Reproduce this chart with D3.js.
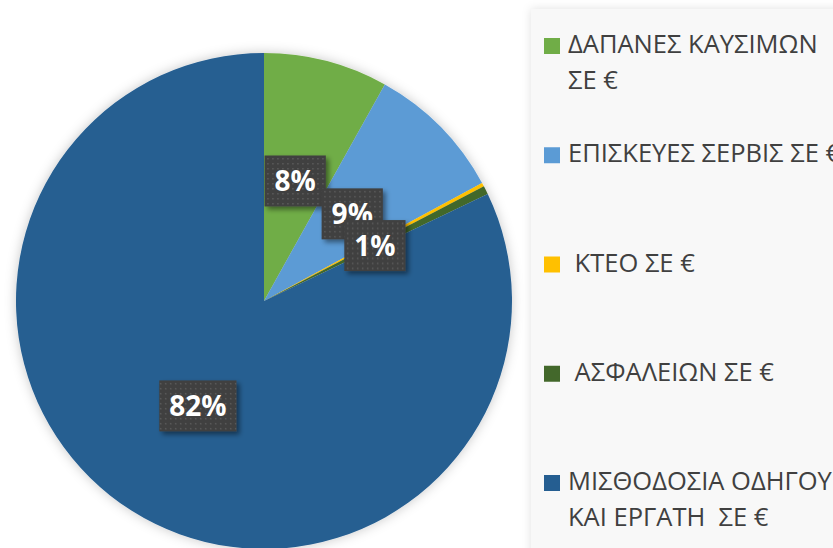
<!DOCTYPE html>
<html>
<head>
<meta charset="utf-8">
<script src="https://cdn.jsdelivr.net/npm/d3@7"></script>
<style>
  body { margin: 0; background: #fff; }
  svg { display: block; }
  text { font-family: "Open Sans", sans-serif; white-space: pre; }
</style>
</head>
<body>
<svg id="chart" width="833" height="548"></svg>
<script>
// Chart data
const categories = ["ΔΑΠΑΝΕΣ ΚΑΥΣΙΜΩΝ ΣΕ €", "ΕΠΙΣΚΕΥΕΣ ΣΕΡΒΙΣ ΣΕ €", "ΚΤΕΟ ΣΕ €", "ΑΣΦΑΛΕΙΩΝ ΣΕ €", "ΜΙΣΘΟΔΟΣΙΑ ΟΔΗΓΟΥ ΚΑΙ ΕΡΓΑΤΗ ΣΕ €"];
const legendLines = [["ΔΑΠΑΝΕΣ ΚΑΥΣΙΜΩΝ", "ΣΕ €"], ["ΕΠΙΣΚΕΥΕΣ ΣΕΡΒΙΣ ΣΕ €"], [" ΚΤΕΟ ΣΕ €"], [" ΑΣΦΑΛΕΙΩΝ ΣΕ €"], ["ΜΙΣΘΟΔΟΣΙΑ ΟΔΗΓΟΥ", "ΚΑΙ ΕΡΓΑΤΗ  ΣΕ €"]];
const values = [8.1, 9.0, 0.25, 0.55, 82.1];
const colors = ["#70AD47", "#5B9BD5", "#FFC000", "#43682B", "#255E91"];

const svg = d3.select("#chart");
const defs = svg.append("defs");

// soft glow round the pie
const glow = defs.append("filter").attr("id", "glow")
    .attr("x", "-10%").attr("y", "-10%").attr("width", "120%").attr("height", "120%");
glow.append("feDropShadow").attr("dx", 0).attr("dy", 0)
    .attr("stdDeviation", 6).attr("flood-color", "#000").attr("flood-opacity", 0.22);

// label box shadow
const boxShadow = defs.append("filter").attr("id", "boxShadow")
    .attr("x", "-20%").attr("y", "-20%").attr("width", "150%").attr("height", "150%");
boxShadow.append("feDropShadow").attr("dx", 3).attr("dy", 3)
    .attr("stdDeviation", 2.5).attr("flood-color", "#000").attr("flood-opacity", 0.45);

// legend panel shadow
const panelShadow = defs.append("filter").attr("id", "panelShadow")
    .attr("x", "-10%").attr("y", "-10%").attr("width", "120%").attr("height", "120%");
panelShadow.append("feDropShadow").attr("dx", 0).attr("dy", 0)
    .attr("stdDeviation", 5).attr("flood-color", "#000").attr("flood-opacity", 0.12);

// dotted fill for the data labels
const pat = defs.append("pattern").attr("id", "dots")
    .attr("patternUnits", "userSpaceOnUse").attr("width", 5).attr("height", 5);
pat.append("rect").attr("width", 5).attr("height", 5).attr("fill", "#404040");
pat.append("rect").attr("x", 2).attr("y", 2).attr("width", 1.5).attr("height", 1.5).attr("fill", "#5c5c5c");

// Legend panel
svg.append("rect")
    .attr("x", 531).attr("y", 9)
    .attr("width", 320).attr("height", 560)
    .attr("fill", "#f8f8f8")
    .attr("filter", "url(#panelShadow)");

// Pie
const cx = 264, cy = 301, radius = 248;
const total = d3.sum(values);
const pie = d3.pie().sort(null).value(d => d);
const arcs = pie(values);
const arc = d3.arc().innerRadius(0).outerRadius(radius);

const g = svg.append("g").attr("transform", `translate(${cx},${cy})`);

g.append("g").attr("filter", "url(#glow)")
    .selectAll("path")
    .data(arcs)
    .enter()
    .append("path")
    .attr("d", arc)
    .attr("fill", (d, i) => colors[i]);

// Data labels at centroid (the 0% one sits hidden under 1% in the original)
const fmt = d3.format(".0%");
const labels = g.selectAll(".data-label")
    .data(arcs.filter(d => Math.round(d.value / total * 100) > 0))
    .enter()
    .append("g")
    .attr("class", "data-label")
    .attr("transform", d => `translate(${arc.centroid(d)})`);

labels.each(function(d) {
    const lg = d3.select(this);
    const rect = lg.append("rect").attr("fill", "url(#dots)").attr("filter", "url(#boxShadow)");
    const t = lg.append("text")
        .attr("text-anchor", "middle")
        .attr("dy", "0.36em")
        .attr("fill", "#fff")
        .style("font-weight", "bold")
        .style("font-size", "28px")
        .text(fmt(d.value / total));
    const w = t.node().getComputedTextLength() + 20;
    rect.attr("x", -w / 2).attr("y", -25.5).attr("width", w).attr("height", 51);
});

// Legend
const yRow = d3.scalePoint().domain(categories).range([53, 490]);

const legend = svg.selectAll(".legend-item")
    .data(categories)
    .enter()
    .append("g")
    .attr("class", "legend-item")
    .attr("transform", d => `translate(0,${yRow(d)})`);

legend.append("rect")
    .attr("x", 544).attr("y", -15)
    .attr("width", 16).attr("height", 16)
    .attr("fill", (d, i) => colors[i]);

legend.append("text")
    .attr("x", 568)
    .attr("fill", "#404040")
    .style("font-size", "25.5px")
    .selectAll("tspan")
    .data((d, i) => legendLines[i])
    .enter()
    .append("tspan")
    .attr("x", 568)
    .attr("dy", (d, j) => j === 0 ? 0 : 36)
    .text(d => d);
</script>
</body>
</html>
